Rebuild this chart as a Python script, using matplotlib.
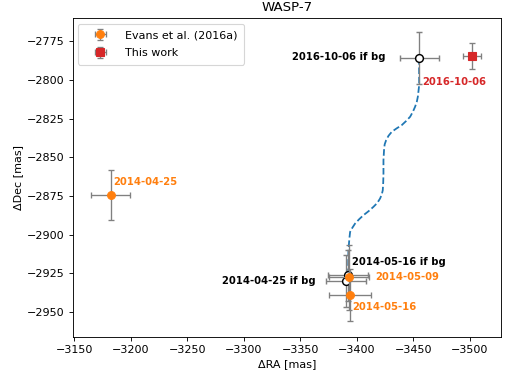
import matplotlib
matplotlib.use("Agg")
import matplotlib.pyplot as plt

# Evans et al. (2016a) measurements
evans_dates = ["2014-04-25", "2014-05-09", "2014-05-16"]
evans_ra = [-3182.2, -3393.0, -3394.0]
evans_dec = [-2874.4, -2927.5, -2939.0]
evans_ra_err = [17.0, 17.7, 18.4]
evans_dec_err = [16.2, 21.0, 17.0]

# this work
work_dates = ["2016-10-06"]
work_ra = [-3502.0]
work_dec = [-2784.4]
work_ra_err = [8.0]
work_dec_err = [8.4]

# predicted positions if background object
bg_dates = ["2014-04-25", "2014-05-16", "2016-10-06"]
bg_ra = [-3390.5, -3392.2, -3455.0]
bg_dec = [-2930.0, -2926.2, -2785.7]
bg_ra_err = [17.5, 17.5, 17.3]
bg_dec_err = [16.6, 16.6, 16.6]

# background track
track_ra = [-3392.2, -3392.5, -3393.1, -3393.5, -3394.0, -3396.0, -3398.4,
            -3402.0, -3405.8, -3410.5, -3414.6, -3418.0, -3420.5, -3422.0,
            -3422.9, -3423.3, -3423.5, -3423.5, -3424.1, -3424.6, -3425.9,
            -3428.0, -3430.9, -3435.0, -3439.7, -3443.5, -3447.1, -3449.5,
            -3451.5, -3453.0, -3453.9, -3455.1, -3455.0]
track_dec = [-2926.2, -2911.1, -2904.7, -2901.5, -2898.2, -2895.5, -2892.8,
             -2890.0, -2887.4, -2884.7, -2882.0, -2879.5, -2876.6, -2874.0,
             -2871.2, -2866.0, -2860.4, -2851.8, -2844.2, -2841.5, -2838.8,
             -2836.0, -2833.4, -2831.3, -2829.1, -2826.5, -2823.7, -2820.5,
             -2817.2, -2814.0, -2810.8, -2803.2, -2785.7]

ORANGE = "#ff7f0e"
RED = "#d62728"
BLUE = "#1f77b4"

fig = plt.figure(figsize=(513 / 80, 374 / 80), dpi=80)
ax = fig.add_axes([0.1417, 0.0989, 0.976 - 0.1417, 0.9519 - 0.0989])

ax.plot(track_ra, track_dec, "--", color=BLUE, linewidth=1.6, zorder=1)

eb_kw = dict(ecolor="grey", elinewidth=1.2, capsize=3, capthick=1.2, markersize=7)

ax.errorbar(bg_ra, bg_dec, xerr=bg_ra_err, yerr=bg_dec_err, fmt="o",
            markerfacecolor="white", markeredgecolor="black", markeredgewidth=1.3,
            zorder=2, **eb_kw)
h_evans = ax.errorbar(evans_ra, evans_dec, xerr=evans_ra_err, yerr=evans_dec_err,
                      fmt="o", color=ORANGE, zorder=3, label="Evans et al. (2016a)", **eb_kw)
h_work = ax.errorbar(work_ra, work_dec, xerr=work_ra_err, yerr=work_dec_err,
                     fmt="s", color=RED, zorder=3, label="This work", **eb_kw)

txt = dict(fontsize=9, fontweight="bold", textcoords="offset points", va="center")

evans_offsets = [(2.3, 12), (23.4, 0), (1.5, -10.5)]
for d, x, y, off in zip(evans_dates, evans_ra, evans_dec, evans_offsets):
    ax.annotate(d, (x, y), xytext=off, color=ORANGE, ha="left", **txt)

for d, x, y in zip(work_dates, work_ra, work_dec):
    ax.annotate(d, (x, y), xytext=(-45.3, -23.7), color=RED, ha="left", **txt)

bg_offsets = [(-27.9, 0), (3.3, 11.7), (-30.6, 0.6)]
bg_ha = ["right", "left", "right"]
for d, x, y, off, ha in zip(bg_dates, bg_ra, bg_dec, bg_offsets, bg_ha):
    ax.annotate(d + " if bg", (x, y), xytext=off, color="black", ha=ha, **txt)

ax.set_xlim(-3148.6, -3527.2)
ax.set_ylim(-2966.2, -2759.8)
ax.set_xlabel("ΔRA [mas]")
ax.set_ylabel("ΔDec [mas]")
ax.set_title("WASP-7")
ax.legend(handles=[h_evans, h_work], loc="upper left",
          handlelength=2.8, labelspacing=0.7, borderpad=0.6)

fig.savefig("out.png", dpi=80)
